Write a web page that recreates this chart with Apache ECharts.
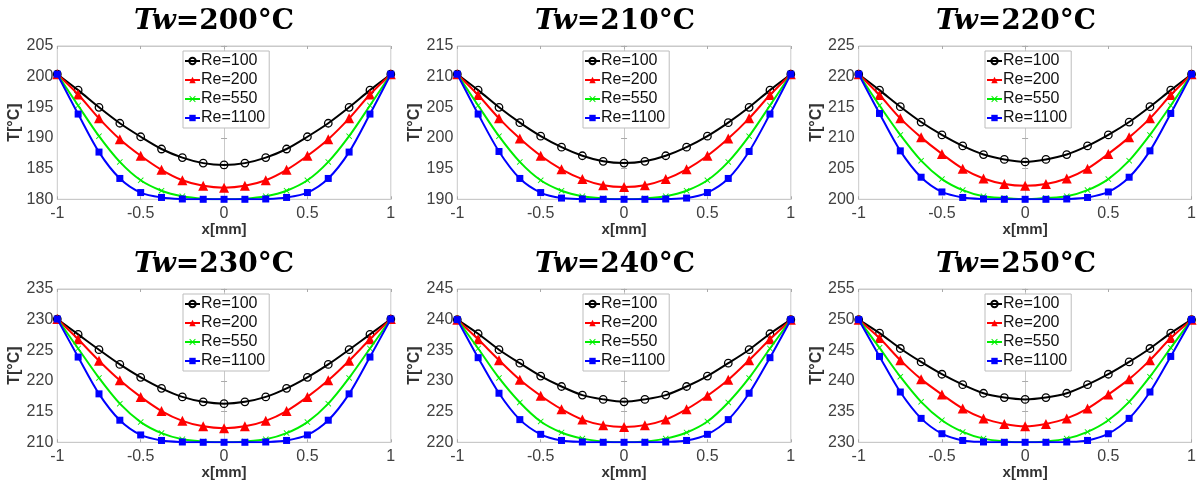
<!DOCTYPE html>
<html>
<head>
<meta charset="utf-8">
<script src="https://cdn.jsdelivr.net/npm/echarts@6/dist/echarts.min.js"></script>
<style>
  html, body { margin: 0; padding: 0; background: #fff; }
  #chart { width: 1199px; height: 486px; }
</style>
</head>
<body>
<div id="chart"></div>
<script>
// Positions across the channel, x in mm
const xPos = [-1, -0.875, -0.75, -0.625, -0.5, -0.375, -0.25, -0.125, 0,
              0.125, 0.25, 0.375, 0.5, 0.625, 0.75, 0.875, 1];
const xTickLabels = ['-1', '-0.5', '0', '0.5', '1'];
const wallTemps = [200, 210, 220, 230, 240, 250];
const reNames = ['Re=100', 'Re=200', 'Re=550', 'Re=1100'];

// Temperature profiles T[°C] for each wall temperature
const tw200_re100  = [200.4, 197.8, 195.0, 192.4, 190.2, 188.2, 186.8, 185.9, 185.6, 185.9, 186.8, 188.2, 190.2, 192.4, 195.0, 197.8, 200.4];
const tw200_re200  = [200.4, 197.1, 193.2, 189.8, 187.1, 184.8, 183.1, 182.2, 181.9, 182.2, 183.1, 184.8, 187.1, 189.8, 193.2, 197.1, 200.4];
const tw200_re550  = [200.4, 195.3, 190.3, 186.1, 183.1, 181.4, 180.5, 180.1, 180.0, 180.1, 180.5, 181.4, 183.1, 186.1, 190.3, 195.3, 200.4];
const tw200_re1100 = [200.4, 193.9, 187.7, 183.4, 181.1, 180.3, 180.05, 180.0, 180.0, 180.0, 180.05, 180.3, 181.1, 183.4, 187.7, 193.9, 200.4];

const tw210_re100  = [210.4, 207.8, 205.0, 202.5, 200.3, 198.5, 197.1, 196.2, 195.9, 196.2, 197.1, 198.5, 200.3, 202.5, 205.0, 207.8, 210.4];
const tw210_re200  = [210.4, 207.0, 203.2, 199.9, 197.1, 194.9, 193.3, 192.3, 192.0, 192.3, 193.3, 194.9, 197.1, 199.9, 203.2, 207.0, 210.4];
const tw210_re550  = [210.4, 205.3, 200.3, 196.1, 193.1, 191.4, 190.5, 190.15, 190.0, 190.15, 190.5, 191.4, 193.1, 196.1, 200.3, 205.3, 210.4];
const tw210_re1100 = [210.4, 203.9, 197.8, 193.4, 191.1, 190.2, 190.05, 190.0, 190.0, 190.0, 190.05, 190.2, 191.1, 193.4, 197.8, 203.9, 210.4];

const tw220_re100  = [220.4, 217.8, 215.1, 212.6, 210.5, 208.7, 207.3, 206.5, 206.1, 206.5, 207.3, 208.7, 210.5, 212.6, 215.1, 217.8, 220.4];
const tw220_re200  = [220.4, 217.0, 213.2, 210.1, 207.4, 205.0, 203.4, 202.5, 202.2, 202.5, 203.4, 205.0, 207.4, 210.1, 213.2, 217.0, 220.4];
const tw220_re550  = [220.4, 215.3, 210.5, 206.3, 203.3, 201.5, 200.5, 200.2, 200.0, 200.2, 200.5, 201.5, 203.3, 206.3, 210.5, 215.3, 220.4];
const tw220_re1100 = [220.4, 214.0, 207.9, 203.6, 201.2, 200.3, 200.05, 200.0, 200.0, 200.0, 200.05, 200.3, 201.2, 203.6, 207.9, 214.0, 220.4];

const tw230_re100  = [230.1, 227.6, 225.1, 222.7, 220.6, 218.8, 217.4, 216.6, 216.3, 216.6, 217.4, 218.8, 220.6, 222.7, 225.1, 227.6, 230.1];
const tw230_re200  = [230.1, 226.8, 223.3, 220.1, 217.4, 215.1, 213.5, 212.6, 212.3, 212.6, 213.5, 215.1, 217.4, 220.1, 223.3, 226.8, 230.1];
const tw230_re550  = [230.1, 225.3, 220.5, 216.3, 213.3, 211.5, 210.5, 210.15, 210.0, 210.15, 210.5, 211.5, 213.3, 216.3, 220.5, 225.3, 230.1];
const tw230_re1100 = [230.1, 223.9, 217.9, 213.6, 211.2, 210.3, 210.05, 210.0, 210.0, 210.0, 210.05, 210.3, 211.2, 213.6, 217.9, 223.9, 230.1];

const tw240_re100  = [240.0, 237.7, 235.1, 232.9, 230.8, 229.1, 227.7, 227.0, 226.6, 227.0, 227.7, 229.1, 230.8, 232.9, 235.1, 237.7, 240.0];
const tw240_re200  = [240.0, 236.8, 233.4, 230.2, 227.6, 225.4, 223.7, 222.8, 222.5, 222.8, 223.7, 225.4, 227.6, 230.2, 233.4, 236.8, 240.0];
const tw240_re550  = [240.0, 235.3, 230.5, 226.5, 223.4, 221.6, 220.6, 220.15, 220.0, 220.15, 220.6, 221.6, 223.4, 226.5, 230.5, 235.3, 240.0];
const tw240_re1100 = [240.0, 233.8, 228.0, 223.7, 221.3, 220.3, 220.05, 220.0, 220.0, 220.0, 220.05, 220.3, 221.3, 223.7, 228.0, 233.8, 240.0];

const tw250_re100  = [250.0, 247.8, 245.3, 243.1, 241.1, 239.4, 238.0, 237.3, 237.0, 237.3, 238.0, 239.4, 241.1, 243.1, 245.3, 247.8, 250.0];
const tw250_re200  = [250.0, 247.0, 243.4, 240.3, 237.8, 235.5, 233.9, 233.0, 232.6, 233.0, 233.9, 235.5, 237.8, 240.3, 243.4, 247.0, 250.0];
const tw250_re550  = [250.0, 245.4, 240.7, 236.6, 233.6, 231.7, 230.6, 230.15, 230.0, 230.15, 230.6, 231.7, 233.6, 236.6, 240.7, 245.4, 250.0];
const tw250_re1100 = [250.0, 244.0, 238.2, 233.9, 231.4, 230.3, 230.05, 230.0, 230.0, 230.0, 230.05, 230.3, 231.4, 233.9, 238.2, 244.0, 250.0];

const profiles = [
  [tw200_re100, tw200_re200, tw200_re550, tw200_re1100],
  [tw210_re100, tw210_re200, tw210_re550, tw210_re1100],
  [tw220_re100, tw220_re200, tw220_re550, tw220_re1100],
  [tw230_re100, tw230_re200, tw230_re550, tw230_re1100],
  [tw240_re100, tw240_re200, tw240_re550, tw240_re1100],
  [tw250_re100, tw250_re200, tw250_re550, tw250_re1100]
];

// Panel layout (3 columns x 2 rows)
const colLeft = [57.3, 457.3, 858.7];
const rowTop = [46, 289];
const plotW = 333.5, plotH = 153.3;
const titleX = [214, 615, 1016];
const titleY = [22, 265];
const legendLeft = [183, 583, 985];
const legendTop = [51, 294];

// Line styles per Reynolds number
const crossPath = 'path://M0,1L1,0L5,4L9,0L10,1L6,5L10,9L9,10L5,6L1,10L0,9L4,5Z';
const styles = [
  { color: '#000000', symbol: 'circle', size: 7.5, fill: 'rgba(255,255,255,0)', border: 1.3 },
  { color: '#ff0000', symbol: 'triangle', size: 10, fill: '#ff0000', border: 0 },
  { color: '#00ee00', symbol: crossPath, size: 6, fill: '#00ee00', border: 0 },
  { color: '#0000ff', symbol: 'rect', size: 7, fill: '#0000ff', border: 0 }
];

const axisGray = '#c9c9c9';
const labelGray = '#404040';
const sans = 'Liberation Sans, Arial, sans-serif';

const grids = [], xAxes = [], yAxes = [], series = [], legends = [], graphics = [];

wallTemps.forEach((tw, p) => {
  const col = p % 3, row = Math.floor(p / 3);
  grids.push({ left: colLeft[col], top: rowTop[row], width: plotW, height: plotH,
    show: true, borderColor: axisGray, borderWidth: 1, backgroundColor: '#fff' });

  const xBase = { gridIndex: p, type: 'value', min: -1, max: 1, interval: 0.5,
    splitLine: { show: false },
    axisLine: { show: true, lineStyle: { color: axisGray, width: 1 } },
    axisTick: { show: true, inside: true, length: 3, lineStyle: { color: '#aaaaaa' } } };
  xAxes.push(Object.assign({}, xBase, {
    position: 'bottom',
    name: 'x[mm]', nameLocation: 'middle', nameGap: 23,
    nameTextStyle: { fontFamily: sans, fontSize: 15, fontWeight: 'bold', color: '#333' },
    axisLabel: { fontFamily: sans, fontSize: 16, color: labelGray, margin: 6,
      formatter: v => xTickLabels[Math.round((v + 1) / 0.5)] }
  }));
  xAxes.push(Object.assign({}, xBase, { position: 'top', axisLabel: { show: false } }));

  const yBase = { gridIndex: p, type: 'value', min: tw - 20, max: tw + 5, interval: 5,
    splitLine: { show: false },
    axisLine: { show: true, lineStyle: { color: axisGray, width: 1 } },
    axisTick: { show: true, inside: true, length: 3, lineStyle: { color: '#aaaaaa' } } };
  yAxes.push(Object.assign({}, yBase, {
    position: 'left',
    name: 'T[°C]', nameLocation: 'middle', nameGap: 33,
    nameTextStyle: { fontFamily: sans, fontSize: 16, fontWeight: 'bold', color: '#333' },
    axisLabel: { fontFamily: sans, fontSize: 16, color: labelGray, margin: 4 }
  }));
  yAxes.push(Object.assign({}, yBase, { position: 'right', axisLabel: { show: false } }));

  profiles[p].forEach((vals, k) => {
    const s = styles[k];
    series.push({
      type: 'line', name: reNames[k],
      xAxisIndex: 2 * p, yAxisIndex: 2 * p,
      data: xPos.map((x, i) => [x, vals[i]]),
      smooth: 0.3,
      symbol: s.symbol, symbolSize: s.size, showSymbol: true,
      lineStyle: { color: s.color, width: 2 },
      itemStyle: { color: s.fill, borderColor: s.color, borderWidth: s.border },
      emphasis: { disabled: true },
      z: 2 + k
    });
  });

  legends.push({
    data: reNames, orient: 'vertical',
    left: legendLeft[col], top: legendTop[row],
    backgroundColor: '#fff', borderColor: '#bdbdbd', borderWidth: 1,
    padding: [2, 4, 2, 1], itemGap: 3, itemWidth: 15, itemHeight: 8,
    selectedMode: false,
    textStyle: { fontFamily: sans, fontSize: 16, color: '#111', padding: [0, 0, 0, -4] }
  });

  graphics.push({
    type: 'text', x: titleX[col], y: titleY[row], z: 100,
    style: {
      text: '{i|Tw}{n|=' + tw + '°C}',
      align: 'center', verticalAlign: 'middle',
      rich: {
        i: { fontFamily: 'DejaVu Serif', fontStyle: 'italic', fontWeight: 'bold', fontSize: 28, fill: '#000' },
        n: { fontFamily: 'DejaVu Serif', fontWeight: 'bold', fontSize: 28, fill: '#000' }
      }
    }
  });
});

const chart = echarts.init(document.getElementById('chart'), null, { renderer: 'canvas' });
chart.setOption({
  animation: false,
  backgroundColor: '#fff',
  grid: grids, xAxis: xAxes, yAxis: yAxes,
  series: series, legend: legends, graphic: graphics
});
</script>
</body>
</html>
